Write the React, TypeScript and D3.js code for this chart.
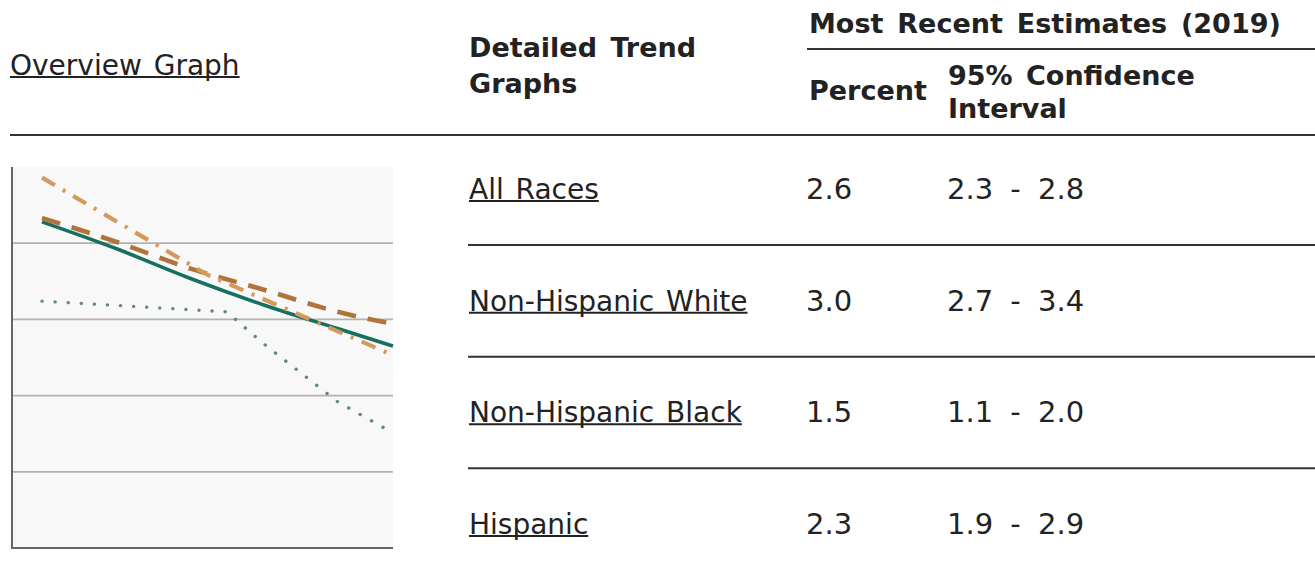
import React, { useEffect, useRef } from 'react';
import * as d3 from 'd3';

const WIDTH = 1315;
const HEIGHT = 575;

// ----- Table data -----
const rowLabels = ['All Races', 'Non-Hispanic White', 'Non-Hispanic Black', 'Hispanic'];
const rowPercents = ['2.6', '3.0', '1.5', '2.3'];
const rowCIs = ['2.3 - 2.8', '2.7 - 3.4', '1.1 - 2.0', '1.9 - 2.9'];

// ----- Overview graph data (percent by year, trend lines) -----
const yTicks = [0, 1, 2, 3, 4, 5];
const allRacesYears = [2000, 2004, 2008, 2012, 2016, 2019];
const allRacesValues = [4.28, 3.93, 3.54, 3.19, 2.88, 2.65];
const nhWhiteYears = [2000, 2004, 2008, 2012, 2016, 2019];
const nhWhiteValues = [4.33, 4.02, 3.67, 3.39, 3.1, 2.94];
const nhBlackYears = [2000, 2010, 2012, 2014, 2016, 2019];
const nhBlackValues = [3.24, 3.1, 2.68, 2.3, 1.92, 1.51];
const hispanicYears = [2000, 2009, 2019];
const hispanicValues = [4.86, 3.58, 2.53];

const FONT = "'DejaVu Sans', Verdana, sans-serif";
const TEXT = '#222';
const RULE = '#333';

export default function App() {
  const ref = useRef<SVGSVGElement | null>(null);

  useEffect(() => {
    const svg = d3.select(ref.current);
    svg.selectAll('*').remove();

    // ---------- Chart ----------
    const plot = { left: 12, right: 393, top: 167, bottom: 548 };
    const x = d3.scaleLinear().domain([2000, 2019]).range([42, 393]);
    const y = d3.scaleLinear().domain([0, 5]).range([plot.bottom, plot.top]);

    const g = svg.append('g');
    g.append('rect')
      .attr('x', plot.left)
      .attr('y', plot.top)
      .attr('width', plot.right - plot.left)
      .attr('height', plot.bottom - plot.top)
      .attr('fill', '#f8f8f8');

    g.selectAll('line.grid')
      .data(yTicks.filter((t) => t > 0 && t < 5))
      .enter()
      .append('line')
      .attr('class', 'grid')
      .attr('x1', plot.left)
      .attr('x2', plot.right)
      .attr('y1', (d) => y(d))
      .attr('y2', (d) => y(d))
      .attr('stroke', '#b3b3b3')
      .attr('stroke-width', 1.8);

    const series = [
      { years: nhBlackYears, values: nhBlackValues, color: '#5f8a80', width: 3.4, dash: '0.1 13', cap: 'round', curve: d3.curveLinear },
      { years: allRacesYears, values: allRacesValues, color: '#17705f', width: 3.6, dash: null, cap: 'butt', curve: d3.curveMonotoneX },
      { years: nhWhiteYears, values: nhWhiteValues, color: '#b0743a', width: 4.6, dash: '19 12', cap: 'butt', curve: d3.curveMonotoneX },
      { years: hispanicYears, values: hispanicValues, color: '#d49a5c', width: 4.2, dash: '15 9 3 9', cap: 'butt', curve: d3.curveLinear },
    ];

    series.forEach((s) => {
      const pts = s.years.map((yr, i) => [yr, s.values[i]] as [number, number]);
      const line = d3
        .line<[number, number]>()
        .x((d) => x(d[0]))
        .y((d) => y(d[1]))
        .curve(s.curve);
      const p = g
        .append('path')
        .attr('d', line(pts) || '')
        .attr('fill', 'none')
        .attr('stroke', s.color)
        .attr('stroke-width', s.width)
        .attr('stroke-linecap', s.cap);
      if (s.dash) p.attr('stroke-dasharray', s.dash);
    });

    // axes
    g.append('line')
      .attr('x1', plot.left)
      .attr('x2', plot.left)
      .attr('y1', plot.top)
      .attr('y2', plot.bottom)
      .attr('stroke', '#666')
      .attr('stroke-width', 2);
    g.append('line')
      .attr('x1', plot.left - 1)
      .attr('x2', plot.right)
      .attr('y1', plot.bottom)
      .attr('y2', plot.bottom)
      .attr('stroke', '#666')
      .attr('stroke-width', 2);

    // ---------- Table ----------
    const t = svg.append('g').attr('font-family', FONT).attr('fill', TEXT);

    const addText = (
      txt: string,
      tx: number,
      ty: number,
      opts: { bold?: boolean; underline?: boolean; size?: number; ws?: number } = {}
    ) => {
      const node = t
        .append('text')
        .attr('x', tx)
        .attr('y', ty)
        .attr('font-size', opts.size ?? 28)
        .attr('font-weight', opts.bold ? 'bold' : 'normal')
        .style('word-spacing', `${opts.ws ?? 4}px`)
        .text(txt);
      if (opts.underline) {
        const len = (node.node() as SVGTextElement).getComputedTextLength();
        t.append('line')
          .attr('x1', tx)
          .attr('x2', tx + len)
          .attr('y1', ty + 2)
          .attr('y2', ty + 2)
          .attr('stroke', TEXT)
          .attr('stroke-width', 2);
      }
    };

    const hline = (x1: number, x2: number, yy: number) =>
      t
        .append('line')
        .attr('x1', x1)
        .attr('x2', x2)
        .attr('y1', yy)
        .attr('y2', yy)
        .attr('stroke', RULE)
        .attr('stroke-width', 2);

    addText('Overview Graph', 10, 75, { underline: true, ws: 3 });
    addText('Detailed Trend', 469, 57, { bold: true, size: 27 });
    addText('Graphs', 469, 92.5, { bold: true, size: 27 });
    addText('Most Recent Estimates (2019)', 809, 33, { bold: true, size: 27, ws: 4.5 });
    hline(807, WIDTH, 49);
    addText('Percent', 809, 100, { bold: true, size: 27 });
    addText('95% Confidence', 948, 85, { bold: true, size: 27 });
    addText('Interval', 948, 118, { bold: true, size: 27 });
    hline(10, WIDTH, 135);

    const rowBase = d3.scaleLinear().domain([0, 3]).range([199, 534]);
    rowLabels.forEach((lab, i) => {
      const by = rowBase(i);
      addText(lab, 469, by, { underline: true, ws: 3 });
      addText(rowPercents[i], 806, by, { size: 29 });
      addText(rowCIs[i], 947, by, { size: 29, ws: 8 });
      if (i < rowLabels.length - 1) hline(468, WIDTH, by + 46);
    });
  }, []);

  return (
    <svg
      ref={ref}
      width={WIDTH}
      height={HEIGHT}
      style={{ position: 'absolute', left: 0, top: 0, background: '#fff' }}
    />
  );
}
